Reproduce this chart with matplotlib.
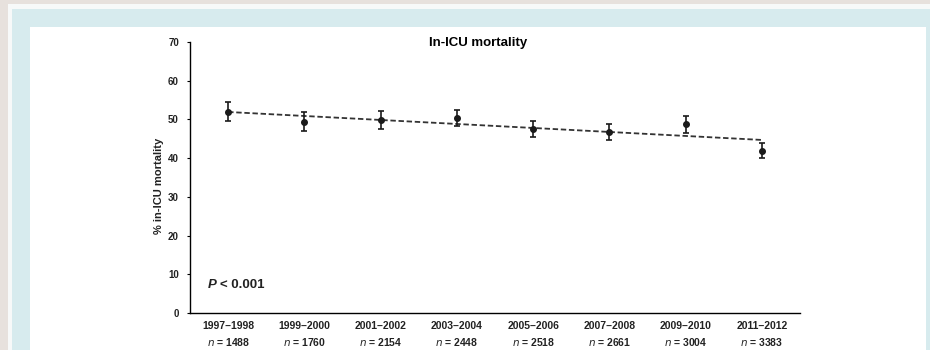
import numpy as np
import matplotlib
matplotlib.use('Agg')
import matplotlib.pyplot as plt
from matplotlib.patches import Rectangle

periods = ['1997\u20131998', '1999\u20132000', '2001\u20132002', '2003\u20132004',
           '2005\u20132006', '2007\u20132008', '2009\u20132010', '2011\u20132012']
n_values = [1488, 1760, 2154, 2448, 2518, 2661, 3004, 3383]
mortality = [52.0, 49.4, 49.9, 50.4, 47.5, 46.7, 48.7, 41.9]
ci_half = [2.5, 2.4, 2.3, 2.1, 2.0, 2.0, 2.1, 1.9]

plt.rcParams['font.family'] = ['Liberation Sans Narrow', 'Liberation Sans', 'DejaVu Sans']
plt.rcParams['mathtext.fontset'] = 'custom'
plt.rcParams['mathtext.it'] = 'Liberation Sans Narrow:italic'

fig = plt.figure(figsize=(9.3, 3.5), dpi=100)
fig.patch.set_facecolor('#e7e1dd')

# frame around the figure panel (pixel coords from top-left)
def box(x0, y0, x1, y1, color):
    fig.patches.append(Rectangle((x0 / 930, 1 - y1 / 350), (x1 - x0) / 930, (y1 - y0) / 350,
                                 transform=fig.transFigure, facecolor=color,
                                 edgecolor='none', zorder=-10))

box(8, 4, 930, 350, '#f7f9f9')
box(12, 9, 930, 350, '#d7ebee')
box(30, 27, 926, 350, 'white')

ax = fig.add_axes([190 / 930, 1 - 313 / 350, 610 / 930, 271 / 350])
x = np.arange(len(periods))

ax.errorbar(x, mortality, yerr=ci_half, fmt='o', color='#1a1a1a', ms=4,
            elinewidth=1.2, capsize=2.3, capthick=1.2, zorder=3)

slope, intercept = np.polyfit(x, mortality, 1)
ax.plot([x[0], x[-1]], [intercept, intercept + slope * x[-1]], ls=(0, (3, 1.5)),
        color='#333333', lw=1.3, zorder=2)

ax.set_xlim(-0.5, 7.5)
ax.set_ylim(0, 70)
ax.set_yticks(range(0, 71, 10))
ax.tick_params(axis='y', labelsize=7, length=2, width=0.8, pad=6, labelcolor='#222222')
ax.set_xticks(x)
ax.set_xticklabels([f'{p}\n$n$ = {n}' for p, n in zip(periods, n_values)],
                   fontsize=7.5, linespacing=1.5, color='#222222', fontweight='bold')
ax.tick_params(axis='x', length=0, pad=6)
for lab in ax.get_yticklabels():
    lab.set_fontweight('bold')
for s in ['top', 'right']:
    ax.spines[s].set_visible(False)
for s in ['left', 'bottom']:
    ax.spines[s].set_linewidth(1.0)
ax.set_ylabel('% in-ICU mortality', fontsize=8, color='#222222', fontweight='bold')
ax.yaxis.set_label_coords(-0.043, 0.47)

ax.text(-0.27, 7.3, 'P', fontsize=9.5, fontweight='bold', fontstyle='italic',
        color='#222222', ha='left', va='center')
ax.annotate('< 0.001', xy=(-0.27, 7.3), xytext=(9, 0), textcoords='offset points',
            fontsize=9.5, fontweight='bold', color='#222222', ha='left', va='center')

fig.text(478 / 930, 1 - 43 / 350, 'In-ICU mortality', fontsize=9.5, fontweight='bold',
         ha='center', va='center')

fig.savefig('out.png', dpi=100, facecolor=fig.get_facecolor())
